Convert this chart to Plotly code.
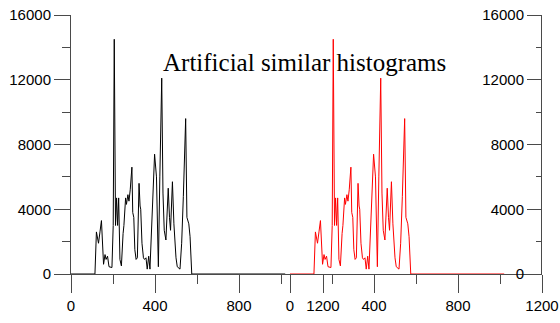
import plotly.graph_objects as go

# histogram bins (grey level) and counts
bins = [0, 114, 121, 131, 138, 145, 155, 162, 167, 174, 181, 188, 195, 201, 206,
        212, 217, 222, 227, 233, 240, 248, 252, 260, 264, 271, 276, 282, 290, 294,
        299, 304, 310, 316, 324, 329, 332, 338, 345, 350, 357, 363, 370, 376, 384,
        390, 398, 407, 416, 423, 432, 438, 444, 452, 463, 469, 474, 483, 490, 500,
        506, 519, 527, 535, 546, 552, 561, 567, 575, 1020]
counts_a = [0, 0, 2600, 1900, 2600, 3300, 600, 1200, 900, 1100, 450, 400, 400, 3000, 14500,
            3000, 4700, 3000, 4700, 900, 500, 2500, 3000, 4700, 4300, 4900, 4500, 5200, 6600, 3800,
            3500, 1500, 900, 1000, 5600, 4200, 4000, 1900, 1000, 900, 1000, 300, 1100, 300, 2900,
            5300, 7400, 6000, 450, 6000, 12100, 5000, 2700, 2100, 5300, 3500, 2700, 5700, 3100, 1000,
            450, 300, 1900, 4800, 9600, 3500, 3100, 2300, 0, 0]
counts_b = list(counts_a)

x_ticks = [0, 400, 800, 1200]
y_ticks = [0, 4000, 8000, 12000, 16000]
title_text = "Artificial similar histograms"

W, H = 560, 323
AX = "#4a4a4a"
tickfont = dict(family="Liberation Sans, Arial", size=15, color="black")

fig = go.Figure()
fig.add_trace(go.Scatter(x=bins, y=counts_a, mode="lines",
                         line=dict(color="black", width=1), xaxis="x", yaxis="y",
                         showlegend=False, hoverinfo="skip"))
fig.add_trace(go.Scatter(x=bins, y=counts_b, mode="lines",
                         line=dict(color="#ff0000", width=1), xaxis="x2", yaxis="y2",
                         showlegend=False, hoverinfo="skip"))

ydom = [1 - 274 / H, 1 - 15 / H]
xcommon = dict(range=[0, 1200], tickvals=x_ticks, ticktext=[str(v) for v in x_ticks],
               showline=True, linecolor=AX, linewidth=1, ticks="outside", ticklen=18,
               tickcolor=AX, tickwidth=1, showgrid=False, zeroline=False, tickfont=tickfont,
               automargin=False,
               minor=dict(dtick=200, ticks="outside", ticklen=9, tickcolor=AX, showgrid=False))
ycommon = dict(range=[0, 16000], tickvals=y_ticks, ticktext=[str(v) for v in y_ticks],
               showline=True, linecolor=AX, linewidth=1, ticks="outside",
               tickcolor=AX, tickwidth=1, showgrid=False, zeroline=False, tickfont=tickfont,
               automargin=False, domain=ydom)

fig.update_layout(
    width=W, height=H, margin=dict(l=0, r=0, t=0, b=0, autoexpand=False),
    paper_bgcolor="white", plot_bgcolor="rgba(0,0,0,0)",
    xaxis=dict(domain=[71 / W, 323 / W], anchor="y", **xcommon),
    xaxis2=dict(domain=[290 / W, 542 / W], anchor="y2", **xcommon),
    yaxis=dict(anchor="x", side="left", ticklen=16,
               minor=dict(dtick=2000, ticks="outside", ticklen=8, tickcolor=AX, showgrid=False),
               **ycommon),
    yaxis2=dict(anchor="free", position=541 / W, side="left", ticklen=14,
                minor=dict(dtick=2000, ticks="outside", ticklen=5, tickcolor=AX, showgrid=False),
                **ycommon),
    annotations=[dict(text=title_text, xref="paper", yref="paper", x=304 / W, y=1 - 62 / H,
                      showarrow=False, xanchor="center", yanchor="middle",
                      font=dict(family="Liberation Serif, Times New Roman", size=25, color="black"))],
)

fig.write_html("out.html")
